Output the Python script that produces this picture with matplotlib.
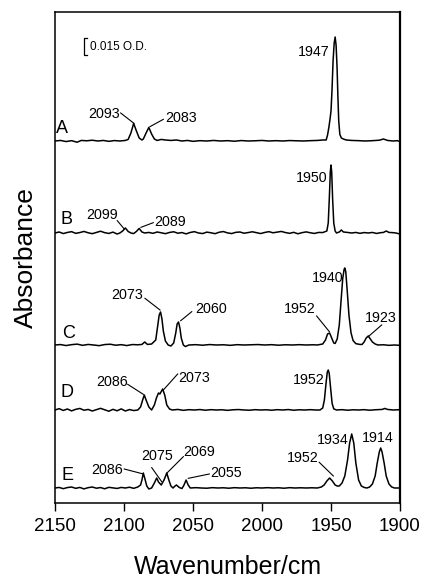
import matplotlib
matplotlib.use("Agg")
import matplotlib.pyplot as plt

plt.rcParams['font.family'] = ['Liberation Sans', 'DejaVu Sans']

# spectra: (wavenumber cm-1, absorbance in mOD above the trace baseline)
A_pts = [(2150, 0), (2146, .5), (2142, -.5), (2138, .3), (2134, -1.1), (2131, .5), (2127, .2), (2123, .7),
         (2119, 0), (2115, .5), (2111, -.3), (2107, .4), (2103, 0), (2099, .5), (2097, 1.4), (2095, 7.2),
         (2093, 15.8), (2091, 9), (2089, 2.7), (2087, .9), (2086, 1.8), (2084, 7.2), (2082, 12.2), (2080, 6.3),
         (2078, 1.8), (2076, .5), (2073, 1.4), (2070, .9), (2066, .5), (2062, .9), (2058, 0), (2054, .5),
         (2050, -.3), (2045, .3), (2040, 0), (2035, .5), (2030, 0), (2025, .3), (2020, -.2), (2015, .4),
         (2010, 0), (2005, .2), (2000, .5), (1995, 0), (1990, .3), (1985, 0), (1980, .4), (1975, .2),
         (1970, 0), (1965, .3), (1960, .5), (1956, .9), (1953.5, .9), (1952.5, 5.4), (1951.5, 12.6),
         (1950.7, 19.8), (1950, 27), (1949.3, 45), (1948.5, 72), (1947.7, 88), (1947, 93.6), (1946.3, 86),
         (1945.6, 66), (1945, 40), (1944.4, 18), (1943.6, 6), (1942.5, 2.7), (1941, 1.8), (1939, .9),
         (1935, .5), (1930, .3), (1925, 0), (1920, .3), (1915, .7), (1912, 1.8), (1909, .5), (1905, 0),
         (1902, .3), (1900, -.5)]

B_pts = [(2150, 0), (2147, .9), (2144, -.5), (2141, .5), (2138, 1.2), (2135, -.3), (2132, .4), (2129, 1.4),
         (2126, .2), (2123, -.6), (2120, .5), (2117, 1.6), (2114, .3), (2111, -.4), (2108, .8), (2105, -.9),
         (2103, 0), (2101, 1.8), (2099, 4.5), (2097, 1.4), (2095, 0), (2093, -.5), (2091, 1.4), (2089, 4.1),
         (2087, .9), (2085, 0), (2082, .5), (2079, -.3), (2076, .9), (2073, .2), (2070, -.6), (2067, .5),
         (2064, 1.1), (2061, -.2), (2058, .4), (2055, -.8), (2052, .5), (2049, 1.2), (2046, 0), (2043, -.5),
         (2040, .8), (2037, .2), (2034, -.6), (2031, .7), (2028, 1.3), (2025, .1), (2022, -.5), (2019, .6),
         (2016, .9), (2013, -.2), (2010, .4), (2007, 1.1), (2004, .3), (2001, -.5), (1998, .5), (1995, 1.2),
         (1992, .2), (1989, .8), (1986, 1.4), (1983, .4), (1980, -.3), (1977, .6), (1974, -.7), (1971, .3),
         (1968, 1), (1965, .2), (1962, -.4), (1959, .5), (1956, .4), (1953, 1.8), (1952, 9), (1951.2, 32),
         (1950.5, 55), (1950, 61.2), (1949.5, 55), (1948.8, 30), (1948, 9), (1947, 1.8), (1946, 0), (1944, .9),
         (1942.5, 2.7), (1941, .9), (1938, .5), (1935, 0), (1932, .5), (1929, -.3), (1926, .4), (1923, 0),
         (1920, .5), (1917, -.4), (1914, .3), (1912, .5), (1910, 1.8), (1908, .5), (1905, .3), (1903, 0),
         (1900, -.9)]

C_pts = [(2150, 0), (2146, .4), (2142, -.5), (2138, .3), (2134, .8), (2130, -.3), (2126, .5), (2122, 0),
         (2118, -.6), (2114, .4), (2110, .7), (2106, -.2), (2102, .3), (2098, -.5), (2094, .4), (2090, .2),
         (2087, .5), (2085, 2.7), (2083, .5), (2080, .9), (2077, 4.5), (2075.5, 18), (2074.5, 27),
         (2073.5, 29.7), (2072.5, 23.4), (2071.5, 12.6), (2070, 3.6), (2068, 0), (2066, -.9), (2064, 1.8),
         (2062.5, 10.8), (2061.5, 18.9), (2060.5, 20.7), (2059.5, 15.3), (2058.5, 6.3), (2057, 0),
         (2055.5, -1.4), (2053, 0), (2048, .3), (2043, -.2), (2038, .4), (2033, 0), (2028, .2), (2023, -.3),
         (2018, .3), (2013, 0), (2008, .2), (2003, .4), (1998, 0), (1993, .3), (1988, -.2), (1983, .2),
         (1978, 0), (1973, .3), (1968, 0), (1963, .2), (1960, 0), (1956, .9), (1954, 4.5), (1952.5, 9.9),
         (1951, 10.8), (1949.5, 6.3), (1948, 1.8), (1947, 1.4), (1945.5, 5.4), (1944, 18), (1942.7, 40),
         (1941.5, 60), (1940.5, 68), (1940, 69.3), (1939.3, 66), (1938.2, 48), (1937, 27), (1935.5, 11),
         (1934, 4), (1932, 1.2), (1929, .5), (1927.5, .5), (1926, 2.7), (1924.5, 6.3), (1923, 8.1),
         (1921.5, 5.4), (1920, 2.7), (1918, .9), (1916, 0), (1912, .2), (1908, -.3), (1904, 0), (1900, -.3)]

D_pts = [(2150, 0), (2147, 1.2), (2144, -.4), (2141, .9), (2138, -.8), (2135, .6), (2132, 1.4), (2129, -.2),
         (2126, .5), (2123, -.9), (2120, .3), (2117, 1.5), (2114, .2), (2111, -1.1), (2108, .6), (2105, -.7),
         (2102, 1), (2099, -.9), (2096, .4), (2093, -.5), (2090, 0), (2088, 2.7), (2086.5, 9), (2085.3, 13.5),
         (2084, 9), (2082, 2.7), (2080, 0), (2078, 4.5), (2076.5, 10.8), (2075, 15.3), (2074, 14.4),
         (2072, 18.9), (2070.5, 13.5), (2069, 4.5), (2067, .9), (2065, 0), (2061, .5), (2057, -.3), (2053, .3),
         (2049, 0), (2045, .4), (2041, -.2), (2037, .3), (2033, 0), (2029, .2), (2025, -.3), (2021, .2),
         (2017, .4), (2013, 0), (2009, -.2), (2005, .3), (2001, 0), (1997, .2), (1993, -.2), (1989, .3),
         (1985, 0), (1981, .4), (1977, -.2), (1973, .2), (1969, 0), (1965, .3), (1961, 0), (1958, 0),
         (1956, 1.8), (1954.8, 9), (1953.6, 24), (1952.7, 34), (1952, 36), (1951.3, 33), (1950.3, 20),
         (1949.2, 6), (1948, 1), (1946, 0), (1942, .3), (1938, -.2), (1934, .2), (1930, 0), (1926, .3),
         (1922, -.2), (1918, .2), (1913, .5), (1911, 1.4), (1909, .5), (1905, 0), (1900, .3)]

E_pts = [(2150, 0), (2147, .5), (2144, -.6), (2141, .4), (2138, .9), (2135, -.3), (2132, .5), (2129, -.8),
         (2126, .3), (2123, .9), (2120, -.2), (2117, .4), (2114, -.7), (2111, .6), (2108, .1), (2105, -.4),
         (2102, .5), (2099, 0), (2096, .7), (2093, -.3), (2090, .9), (2088, 2.7), (2087, 7.2), (2086, 13.5),
         (2085, 9), (2083.5, 1.8), (2082, -.9), (2080, 0), (2078, 4.5), (2076.3, 9), (2075, 5.4), (2073, 2.7),
         (2071, 7.2), (2069, 13.5), (2067.5, 7.2), (2066, 1.8), (2064.5, 0), (2063, 1.8), (2062, 2.7),
         (2060, .5), (2058, -.5), (2056.5, 2.7), (2055, 7.2), (2053.5, 2.7), (2052, 0), (2048, .3), (2044, 0),
         (2040, -.2), (2036, .3), (2032, 0), (2028, .2), (2024, -.2), (2020, .3), (2016, 0), (2012, .2),
         (2008, -.2), (2004, .2), (2000, 0), (1996, .3), (1992, 0), (1988, .2), (1984, -.2), (1980, .3),
         (1976, 0), (1972, .2), (1968, 0), (1964, .2), (1960, 0), (1957, .9), (1955, 2.7), (1953, 6.3),
         (1951, 9), (1949, 6.3), (1947, 2.7), (1945.5, 1.8), (1944, 1.8), (1942, 4.5), (1940, 10.8),
         (1938, 25.2), (1936.5, 40.5), (1935, 48.6), (1933.5, 40.5), (1932, 22.5), (1930, 7.2), (1928, 1.8),
         (1926, .5), (1924, 0), (1922, .9), (1920, 3.6), (1918, 10.8), (1916.5, 22.5), (1915, 32.4),
         (1914, 36), (1913, 32.4), (1911.5, 22.5), (1910, 10.8), (1908, 3.6), (1906, .9), (1904, 0), (1900, 0)]

trace_names = ['A', 'B', 'C', 'D', 'E']
trace_offsets = [325.8, 243.0, 142.2, 83.7, 13.5]   # mOD, vertical stacking
traces = [A_pts, B_pts, C_pts, D_pts, E_pts]

# peak labels: text, text position (wn, mOD), leader line start/end or None
peak_labels = [
    ('2093', (2114.5, 350.4), ((2102.4, 351.0), (2092.8, 341.7))),
    ('2083', (2058.7, 346.2), ((2071.5, 345.3), (2081.2, 338.7))),
    ('1947', (1962.5, 405.5), None),
    ('2099', (2115.9, 259.2), ((2104.9, 254.1), (2099.8, 246.6))),
    ('2089', (2066.7, 252.9), ((2078.8, 252.3), (2087.7, 248.1))),
    ('1950', (1963.8, 292.5), None),
    ('2073', (2097.5, 187.2), ((2084.8, 184.2), (2073.9, 173.7))),
    ('2060', (2037.0, 174.6), ((2050.9, 172.2), (2058.9, 164.1))),
    ('1952', (1972.5, 174.6), ((1960.4, 168.3), (1951.2, 154.2))),
    ('1940', (1952.5, 202.5), None),
    ('1923', (1913.8, 166.5), ((1913.3, 160.2), (1923.0, 149.7))),
    ('2086', (2108.7, 108.9), ((2097.3, 106.8), (2086.0, 97.8))),
    ('2073', (2049.3, 112.5), ((2061.1, 116.1), (2071.5, 101.7))),
    ('1952', (1965.9, 110.7), None),
    ('2086', (2112.3, 29.7), ((2099.8, 30.6), (2086.0, 26.1))),
    ('2075', (2076.1, 42.3), ((2079.9, 31.8), (2072.7, 19.2))),
    ('2069', (2045.7, 45.9), ((2057.0, 41.7), (2069.1, 26.7))),
    ('2055', (2026.1, 27.0), ((2038.2, 26.1), (2053.4, 22.2))),
    ('1952', (1970.7, 40.5), ((1958.5, 36.6), (1948.3, 24.3))),
    ('1934', (1948.9, 56.7), None),
    ('1914', (1916.3, 58.5), None),
]
letter_pos = [(2144.9, 336.6), (2142.0, 255.6), (2139.9, 152.6), (2141.3, 99.5), (2140.6, 25.2)]

fig = plt.figure(figsize=(4.24, 5.78), dpi=100)
ax = fig.add_axes([55 / 424, 75 / 578, 345 / 424, 491 / 578])

for pts, off in zip(traces, trace_offsets):
    wn = [p[0] for p in pts]
    ab = [p[1] + off for p in pts]
    ax.plot(wn, ab, color='black', lw=1.1)

for name, (x, y) in zip(trace_names, letter_pos):
    ax.text(x, y, name, fontsize=13, ha='center', va='center')

for txt, (x, y), lead in peak_labels:
    ax.text(x, y, txt, fontsize=10.3, ha='center', va='center')
    if lead is not None:
        ax.plot([lead[0][0], lead[1][0]], [lead[0][1], lead[1][1]], color='black', lw=0.8)

# scale bar 0.015 O.D. (15 mOD)
ax.plot([2126.8, 2128.8, 2128.8, 2126.8], [418.2, 418.2, 403.2, 403.2], color='black', lw=0.9)
ax.text(2124.6, 410.7, '0.015 O.D.', fontsize=8.5, ha='left', va='center')

ax.set_xlim(2150, 1900)
ax.set_ylim(0, 441.9)
ax.set_xticks([2150, 2100, 2050, 2000, 1950, 1900])
ax.set_yticks([])
ax.tick_params(axis='x', direction='out', length=6, width=1, labelsize=13.5, pad=5)
for s in ax.spines.values():
    s.set_linewidth(1.1)
ax.spines['right'].set_linewidth(1.6)
ax.set_xlabel('Wavenumber/cm', fontsize=18, labelpad=14)
ax.set_ylabel('Absorbance', fontsize=19, labelpad=12)

fig.savefig('out.png', dpi=100)
